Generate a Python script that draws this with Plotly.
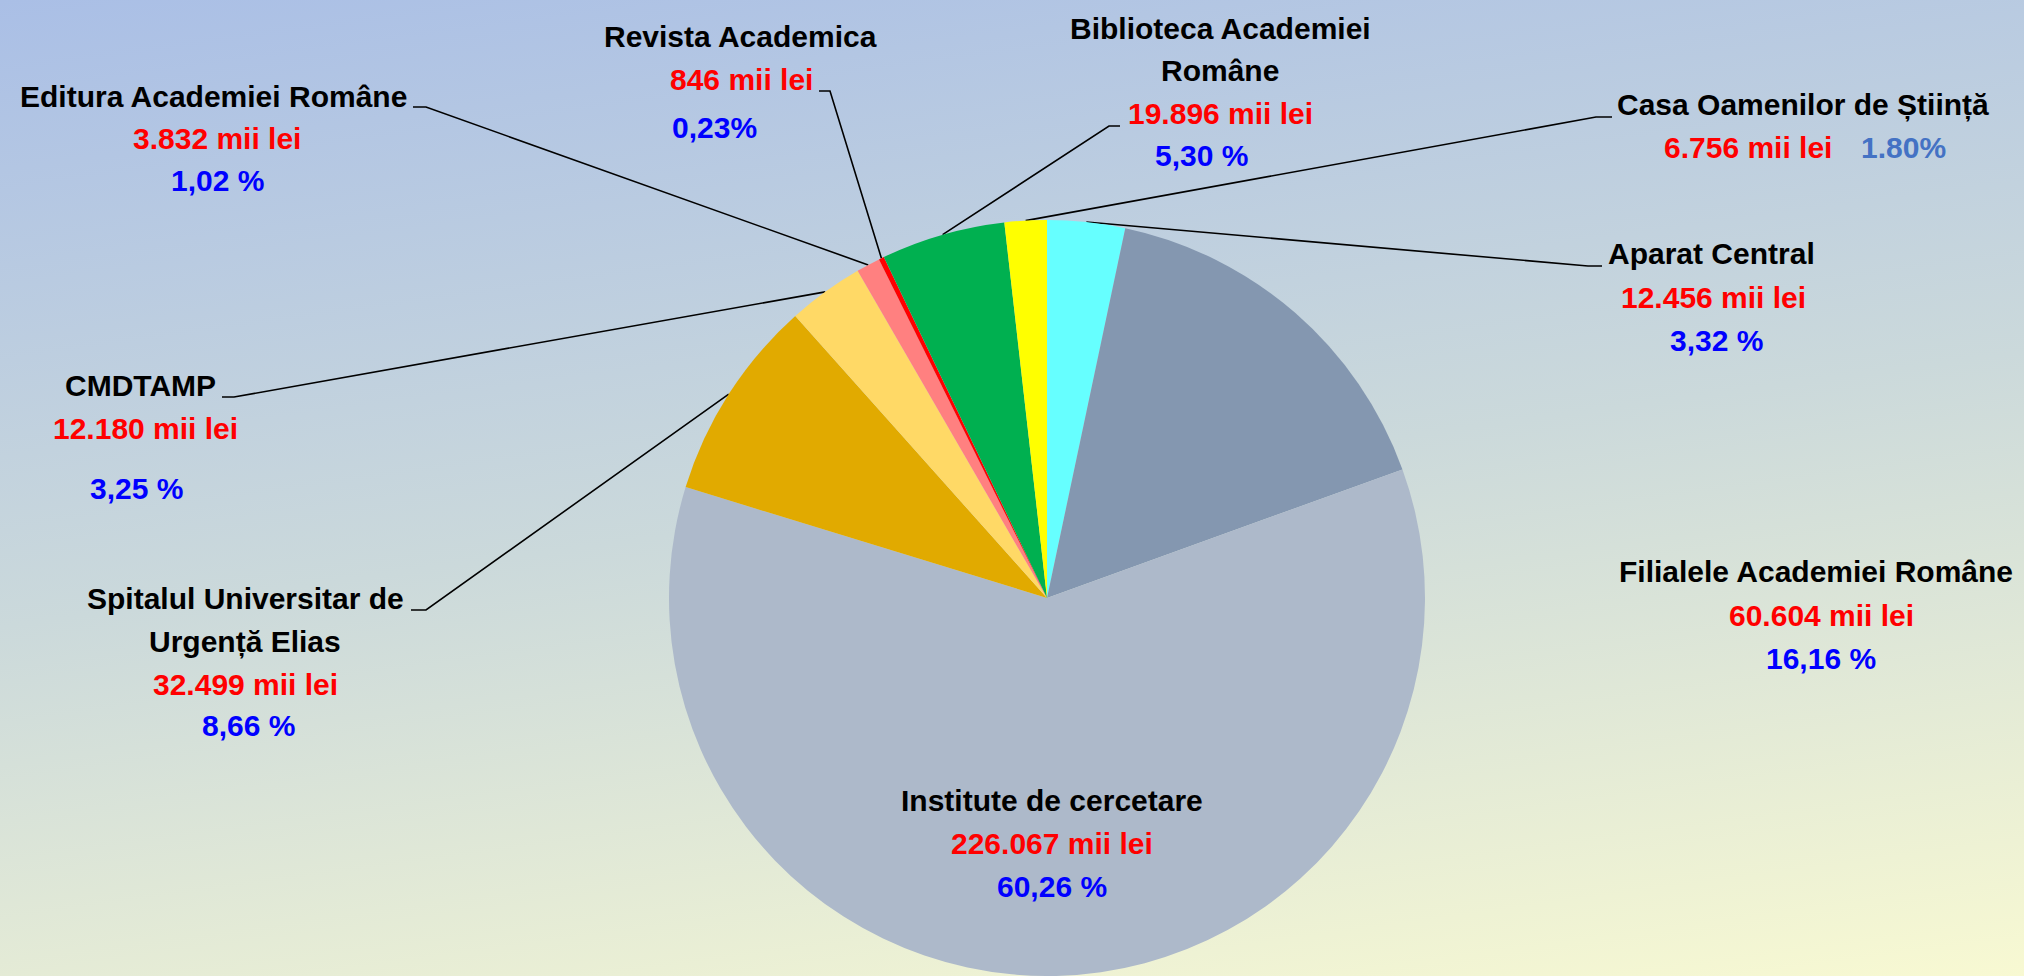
import base64
import math
import plotly.graph_objects as go

# ---------------- data ----------------
categories = [
    "Aparat Central",
    "Filialele Academiei Române",
    "Institute de cercetare",
    "Spitalul Universitar de Urgență Elias",
    "CMDTAMP",
    "Editura Academiei Române",
    "Revista Academica",
    "Biblioteca Academiei Române",
    "Casa Oamenilor de Știință",
]
values = [12456, 60604, 226067, 32499, 12180, 3832, 846, 19896, 6756]
value_labels = ["12.456 mii lei", "60.604 mii lei", "226.067 mii lei", "32.499 mii lei",
                "12.180 mii lei", "3.832 mii lei", "846 mii lei", "19.896 mii lei", "6.756 mii lei"]
percent_labels = ["3,32 %", "16,16 %", "60,26 %", "8,66 %", "3,25 %", "1,02 %", "0,23%", "5,30 %", "1.80%"]
title_lines = [
    ["Aparat Central"],
    ["Filialele Academiei Române"],
    ["Institute de cercetare"],
    ["Spitalul Universitar de", "Urgență Elias"],
    ["CMDTAMP"],
    ["Editura Academiei Române"],
    ["Revista Academica"],
    ["Biblioteca Academiei", "Române"],
    ["Casa Oamenilor de Știință"],
]
colors = ["#66FFFF", "#8497B0", "#ADB9CA", "#E1AA00", "#FFD966", "#FF8080", "#FF0000", "#00B050", "#FFFF00"]

# ---------------- layout constants (pixels) ----------------
W, H = 2024, 976
CX, CY, R = 1047, 598, 378

FONT = "Liberation Sans, Arial, sans-serif"
FS = 30

# label layout: x centre and y centre of each line (titles..., value, percent)
label_pos = {
    0: dict(x=[1711, 1713, 1716], y=[253, 297, 340]),
    1: dict(x=[1816, 1821, 1821], y=[571, 615, 658]),
    2: dict(x=[1052, 1052, 1052], y=[800, 843, 886]),
    3: dict(x=[245, 245, 245, 248], y=[598, 642, 684, 725]),
    4: dict(x=[140, 145, 136], y=[385, 428, 488]),
    5: dict(x=[213, 217, 217], y=[96, 138, 180]),
    6: dict(x=[740, 741, 714], y=[36, 79, 127]),
    7: dict(x=[1220, 1220, 1220, 1201], y=[28, 70, 113, 155]),
    8: dict(x=[1803, 1748, 1903], y=[105, 147, 147]),
}
# leader line label-end: (tick start x, tick end x (joins leader), y)
leaders = {
    0: (1602, 1588, 266),
    3: (411, 426, 610),
    4: (222, 234, 397),
    5: (413, 426, 107),
    6: (819, 830, 91),
    7: (1120, 1109, 126),
    8: (1612, 1596, 117),
}

# ---------------- background gradient ----------------
svg = f'''<svg xmlns="http://www.w3.org/2000/svg" width="{W}" height="{H}" preserveAspectRatio="none">
<defs><linearGradient id="g" x1="0" y1="0" x2="0.335" y2="1.19" gradientUnits="objectBoundingBox">
<stop offset="0" stop-color="#AABFE6"/>
<stop offset="0.5" stop-color="#CBD9DB"/>
<stop offset="1" stop-color="#F8F9D2"/>
</linearGradient></defs>
<rect x="0" y="0" width="{W}" height="{H}" fill="url(#g)"/></svg>'''
bg_uri = "data:image/svg+xml;base64," + base64.b64encode(svg.encode()).decode()

fig = go.Figure()
fig.add_trace(go.Pie(
    labels=categories, values=values, sort=False, direction="clockwise", rotation=0,
    marker=dict(colors=colors, line=dict(width=0)), textinfo="none", hoverinfo="label+value",
    showlegend=False,
    domain=dict(x=[(CX - R) / W, (CX + R) / W], y=[(H - CY - R) / H, (H - CY + R) / H]),
))

# leader lines computed from the slice midpoints
total = sum(values)
cum = 0
mids = []
for v in values:
    mids.append((cum + v / 2) / total * 2 * math.pi)
    cum += v
for i, (xs, xe, y) in leaders.items():
    a = mids[i]
    px = CX + R * math.sin(a)
    py = CY - R * math.cos(a)
    fig.add_trace(go.Scatter(x=[xs, xe, px], y=[y, y, py], mode="lines",
                             line=dict(color="black", width=1.6), hoverinfo="skip", showlegend=False))

annotations = []
for i in range(len(categories)):
    texts = title_lines[i] + [value_labels[i], percent_labels[i]]
    cols = ["black"] * len(title_lines[i]) + ["#FF0000", "#0000FF" if i != 8 else "#4472C4"]
    pos = label_pos[i]
    for t, c, x, y in zip(texts, cols, pos["x"], pos["y"]):
        annotations.append(dict(x=x, y=y, xref="x", yref="y", text=f"<b>{t}</b>", showarrow=False,
                                font=dict(family=FONT, size=FS, color=c), xanchor="center", yanchor="middle"))

fig.update_layout(
    width=W, height=H, margin=dict(l=0, r=0, t=0, b=0),
    paper_bgcolor="#CBD9DB", plot_bgcolor="rgba(0,0,0,0)",
    xaxis=dict(range=[0, W], visible=False, fixedrange=True, domain=[0, 1]),
    yaxis=dict(range=[H, 0], visible=False, fixedrange=True, domain=[0, 1]),
    annotations=annotations,
    images=[dict(source=bg_uri, xref="paper", yref="paper", x=0, y=1, sizex=1, sizey=1,
                 xanchor="left", yanchor="top", sizing="stretch", layer="below")],
)
fig.write_html("out.html", config={"displayModeBar": False},
               post_script="document.body.style.margin='0px';document.body.style.overflow='hidden';")
